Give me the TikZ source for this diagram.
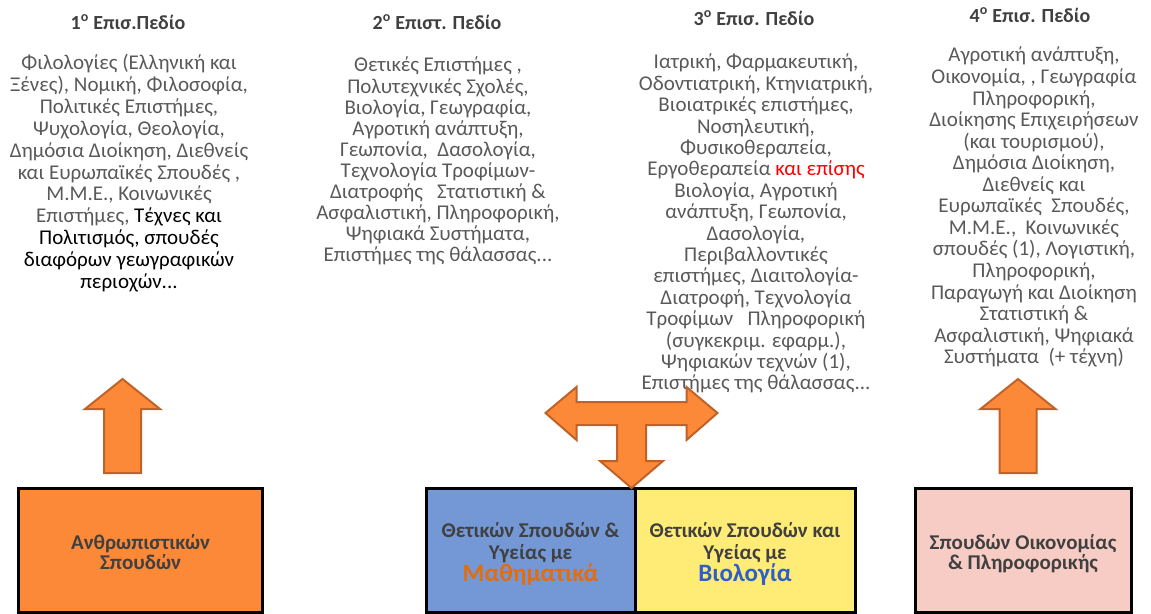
\documentclass[tikz,border=0pt]{standalone}
\usepackage{fontspec}
\setmainfont{Carlito}
\usetikzlibrary{positioning}

\definecolor{txtgray}{RGB}{89,89,89}
\definecolor{ttlgray}{RGB}{64,64,64}
\definecolor{arrowfill}{RGB}{252,137,56}
\definecolor{arrowline}{RGB}{192,98,40}
\definecolor{humfill}{RGB}{252,137,56}
\definecolor{mathfill}{RGB}{116,152,213}
\definecolor{biofill}{RGB}{255,236,118}
\definecolor{ecofill}{RGB}{247,204,196}
\definecolor{mathorange}{RGB}{228,108,10}
\definecolor{bioblue}{RGB}{47,95,200}

\tikzset{
  fieldtitle/.style={font=\fontsize{20}{22}\selectfont\bfseries, text=ttlgray, inner sep=0pt},
  fieldlist/.style={font=\fontsize{21}{#1}\selectfont, text=txtgray, align=center,
    inner sep=0pt, anchor=north},
  groupbox/.style={draw=black, line width=3pt, minimum height=124pt, inner sep=0pt},
  boxtext/.style={font=\fontsize{21}{#1}\selectfont\bfseries, text=ttlgray,
    align=center, inner sep=0pt},
  blockarrow/.style={fill=arrowfill, draw=arrowline, line width=2pt, line join=miter},
}

\begin{document}
\begin{tikzpicture}[x=1pt, y=-1pt]

  \useasboundingbox (0,0) rectangle (1151,613);

  %% ---- field titles ----
  \node[fieldtitle] (t1) at (128,22)  {1\textsuperscript{ο} Επισ.Πεδίο};
  \node[fieldtitle] (t2) at (437,22)  {2\textsuperscript{ο} Επιστ. Πεδίο};
  \node[fieldtitle] (t3) at (754,18)  {3\textsuperscript{ο} Επισ. Πεδίο};
  \node[fieldtitle] (t4) at (1030,15) {4\textsuperscript{ο} Επισ. Πεδίο};

  %% ---- field lists ----
  \node[fieldlist=21.9] (l1) at (129,54) {Φιλολογίες (Ελληνική και\\
    Ξένες), Νομική, Φιλοσοφία,\\
    Πολιτικές Επιστήμες,\\
    Ψυχολογία, Θεολογία,\\
    Δημόσια Διοίκηση, Διεθνείς\\
    και Ευρωπαϊκές Σπουδές ,\\
    Μ.Μ.Ε., Κοινωνικές\\
    Επιστήμες, \textcolor{black}{Τέχνες και}\\
    \textcolor{black}{Πολιτισμός, σπουδές}\\
    \textcolor{black}{διαφόρων γεωγραφικών}\\
    \textcolor{black}{περιοχών...}};

  \node[fieldlist=21.1] (l2) at (438,57) {Θετικές Επιστήμες ,\\
    Πολυτεχνικές Σχολές,\\
    Βιολογία, Γεωγραφία,\\
    Αγροτική ανάπτυξη,\\
    Γεωπονία,\ \ Δασολογία,\\
    Τεχνολογία Τροφίμων-\\
    Διατροφής\ \ \ Στατιστική \&\\
    Ασφαλιστική, Πληροφορική,\\
    Ψηφιακά Συστήματα,\\
    Επιστήμες της θάλασσας...};

  \node[fieldlist=21.4] (l3) at (756,54) {Ιατρική, Φαρμακευτική,\\
    Οδοντιατρική, Κτηνιατρική,\\
    Βιοιατρικές επιστήμες,\\
    Νοσηλευτική,\\
    Φυσικοθεραπεία,\\
    Εργοθεραπεία \textcolor{red}{και επίσης}\\
    Βιολογία, Αγροτική\\
    ανάπτυξη, Γεωπονία,\\
    Δασολογία,\\
    Περιβαλλοντικές\\
    επιστήμες, Διαιτολογία-\\
    Διατροφή, Τεχνολογία\\
    Τροφίμων\ \ \ Πληροφορική\\
    (συγκεκριμ. εφαρμ.),\\
    Ψηφιακών τεχνών (1),\\
    Επιστήμες της θάλασσας...};

  \node[fieldlist=21.55] (l4) at (1034,47) {Αγροτική ανάπτυξη,\\
    Οικονομία, , Γεωγραφία\\
    Πληροφορική,\\
    Διοίκησης Επιχειρήσεων\\
    (και τουρισμού),\\
    Δημόσια Διοίκηση,\\
    Διεθνείς και\\
    Ευρωπαϊκές\ \ Σπουδές,\\
    Μ.Μ.Ε.,\ \ Κοινωνικές\\
    σπουδές (1), Λογιστική,\\
    Πληροφορική,\\
    Παραγωγή και Διοίκηση\\
    Στατιστική \&\\
    Ασφαλιστική, Ψηφιακά\\
    Συστήματα\ \ (+ τέχνη)};

  %% ---- study groups ----
  \node[groupbox, fill=humfill,  minimum width=244pt] (hum)  at (140.5,550) {};
  \node[groupbox, fill=mathfill, minimum width=209pt] (math) at (530.5,550) {};
  \node[groupbox, fill=biofill,  minimum width=220pt] (bio)  at (745,550)   {};
  \node[groupbox, fill=ecofill,  minimum width=216pt] (eco)  at (1023,550)  {};

  \node[boxtext=20] (humtxt) at ([yshift=-2pt]hum.center) {Ανθρωπιστικών\\Σπουδών};
  \node[boxtext=22] (mathtxt) at ([yshift=-4pt]math.center) {Θετικών Σπουδών \&\\Υγείας με\\
    {\fontsize{25}{22}\selectfont\textcolor{mathorange}{Μαθηματικά}}};
  \node[boxtext=22] (biotxt) at ([yshift=-4pt]bio.center) {Θετικών Σπουδών και\\Υγείας με\\
    {\fontsize{25}{22}\selectfont\textcolor{bioblue}{Βιολογία}}};
  \node[boxtext=20] (ecotxt) at ([yshift=-4pt]eco.center) {Σπουδών Οικονομίας\\\& Πληροφορικής};

  %% ---- up arrows ----
  \foreach \cx in {122.5, 1018}{
    \draw[blockarrow] (\cx-18.5,473) -- (\cx-18.5,409) -- (\cx-37.5,409)
      -- (\cx,379) -- (\cx+37.5,409) -- (\cx+18.5,409) -- (\cx+18.5,473) -- cycle;
  }

  %% ---- three-way arrow ----
  \def\cx{631.5}
  \draw[blockarrow] (\cx-86,413) -- (\cx-55,387) -- (\cx-55,402) -- (\cx+55,402)
    -- (\cx+55,387) -- (\cx+86,413) -- (\cx+55,440) -- (\cx+55,425)
    -- (\cx+14.5,425) -- (\cx+14.5,461) -- (\cx+31.5,461) -- (\cx,488)
    -- (\cx-31.5,461) -- (\cx-14.5,461) -- (\cx-14.5,425) -- (\cx-55,425)
    -- (\cx-55,440) -- cycle;

\end{tikzpicture}
\end{document}
